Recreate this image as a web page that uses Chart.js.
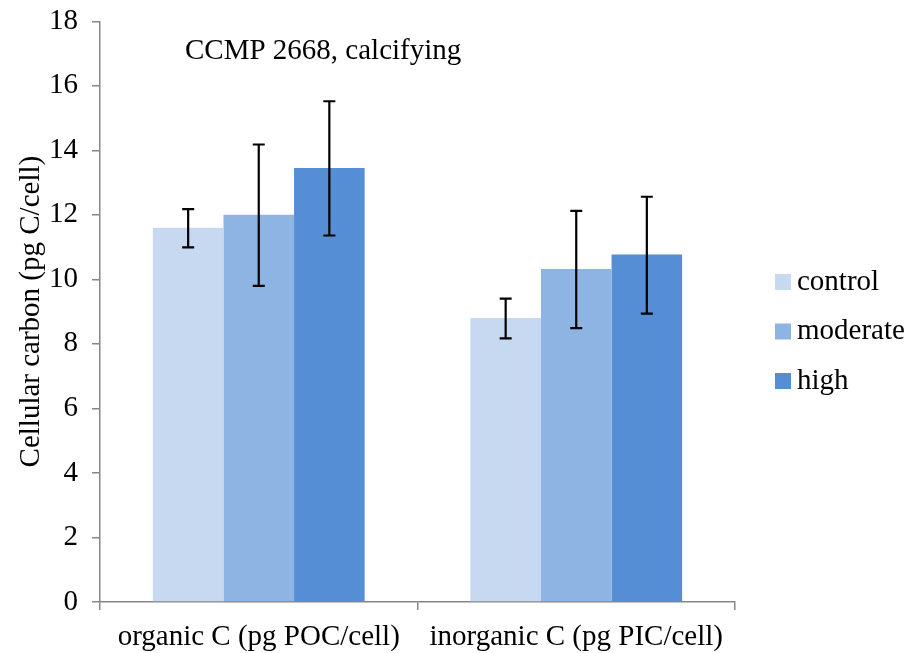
<!DOCTYPE html>
<html>
<head>
<meta charset="utf-8">
<script src="https://cdn.jsdelivr.net/npm/chart.js@4.4.1/dist/chart.umd.min.js"></script>
<style>
    html, body { margin: 0; padding: 0; background: #fff; }
    #wrap { width: 908px; height: 653px; }
</style>
</head>
<body>
<div id="wrap"><canvas id="cellCarbonChart" width="908" height="653"></canvas></div>
<script>
// Values
const categories = ['organic C (pg POC/cell)', 'inorganic C (pg PIC/cell)'];
const seriesNames = ['control', 'moderate', 'high'];
const controlValues = [11.6, 8.8];
const moderateValues = [12.0, 10.32];
const highValues = [13.45, 10.77];
// error bar ends (upper / lower)
const controlErrHigh = [12.18, 9.40];
const controlErrLow = [10.99, 8.17];
const moderateErrHigh = [14.18, 12.12];
const moderateErrLow = [9.80, 8.49];
const highErrHigh = [15.52, 12.56];
const highErrLow = [11.36, 8.94];
const yTicks = [0, 2, 4, 6, 8, 10, 12, 14, 16, 18];
const chartTitle = 'CCMP 2668, calcifying';

const barColors = ['#C6D9F1', '#8EB4E3', '#558ED5'];
const errHighs = [controlErrHigh, moderateErrHigh, highErrHigh];
const errLows = [controlErrLow, moderateErrLow, highErrLow];
const serifFont = "'Liberation Serif', 'Times New Roman', serif";
const axisGray = '#868686';
const fontSize = 29;

// Draws the black error bars with caps on top of each bar
const errorBarPlugin = {
    id: 'errorBars',
    afterDatasetsDraw(chart) {
        const ctx = chart.ctx;
        const yScale = chart.scales.y;
        ctx.save();
        ctx.strokeStyle = '#000';
        ctx.lineWidth = 2.2;
        chart.data.datasets.forEach((ds, i) => {
            const meta = chart.getDatasetMeta(i);
            meta.data.forEach((bar, j) => {
                const x = bar.x;
                const yHi = yScale.getPixelForValue(errHighs[i][j]);
                const yLo = yScale.getPixelForValue(errLows[i][j]);
                ctx.beginPath();
                ctx.moveTo(x, yHi);
                ctx.lineTo(x, yLo);
                ctx.moveTo(x - 6, yHi);
                ctx.lineTo(x + 6, yHi);
                ctx.moveTo(x - 6, yLo);
                ctx.lineTo(x + 6, yLo);
                ctx.stroke();
            });
        });
        ctx.restore();
    }
};

// Text label inside the plot area + legend at the right (Excel style)
const annotationsPlugin = {
    id: 'annotations',
    afterDraw(chart) {
        const ctx = chart.ctx;
        ctx.save();
        ctx.font = fontSize + 'px ' + serifFont;
        ctx.fillStyle = '#000';
        ctx.textBaseline = 'middle';
        ctx.textAlign = 'left';
        ctx.fillText(chartTitle, 185, 51);

        // legend
        const legendX = chart.chartArea.right + 40;
        let legendY = 282;
        chart.data.datasets.forEach(ds => {
            ctx.fillStyle = ds.backgroundColor;
            ctx.fillRect(legendX, legendY - 8, 16, 16);
            ctx.fillStyle = '#000';
            ctx.fillText(ds.label, legendX + 22, legendY);
            legendY += 49.5;
        });
        ctx.restore();
    }
};

const ctx = document.getElementById('cellCarbonChart').getContext('2d');
new Chart(ctx, {
    type: 'bar',
    data: {
        labels: categories,
        datasets: [
            { label: seriesNames[0], data: controlValues, backgroundColor: barColors[0] },
            { label: seriesNames[1], data: moderateValues, backgroundColor: barColors[1] },
            { label: seriesNames[2], data: highValues, backgroundColor: barColors[2] }
        ]
    },
    options: {
        responsive: false,
        animation: false,
        layout: {
            padding: { top: 14, right: 173, left: 0, bottom: 0 }
        },
        datasets: {
            bar: {
                categoryPercentage: 0.667,
                barPercentage: 1.0
            }
        },
        plugins: {
            legend: { display: false },
            tooltip: { enabled: false }
        },
        scales: {
            x: {
                grid: {
                    display: true,
                    drawOnChartArea: false,
                    drawTicks: true,
                    tickLength: 8,
                    color: axisGray,
                    lineWidth: 1.5
                },
                border: { color: axisGray, width: 1.5 },
                ticks: {
                    color: '#000',
                    padding: 10,
                    font: { family: serifFont, size: fontSize }
                },
                afterFit(scale) { scale.height = 51; }
            },
            y: {
                min: 0,
                max: 18,
                afterBuildTicks(scale) {
                    scale.ticks = yTicks.map(v => ({ value: v }));
                },
                grid: {
                    display: true,
                    drawOnChartArea: false,
                    drawTicks: true,
                    tickLength: 8,
                    color: axisGray,
                    lineWidth: 1.5
                },
                border: { color: axisGray, width: 1.5 },
                ticks: {
                    color: '#000',
                    padding: 14,
                    font: { family: serifFont, size: fontSize, lineHeight: 0.5 }
                },
                title: {
                    display: true,
                    text: 'Cellular carbon (pg C/cell)',
                    color: '#000',
                    padding: { top: 14, bottom: 0 },
                    font: { family: serifFont, size: fontSize }
                },
                afterFit(scale) { scale.width = 100; }
            }
        }
    },
    plugins: [errorBarPlugin, annotationsPlugin]
});
</script>
</body>
</html>
